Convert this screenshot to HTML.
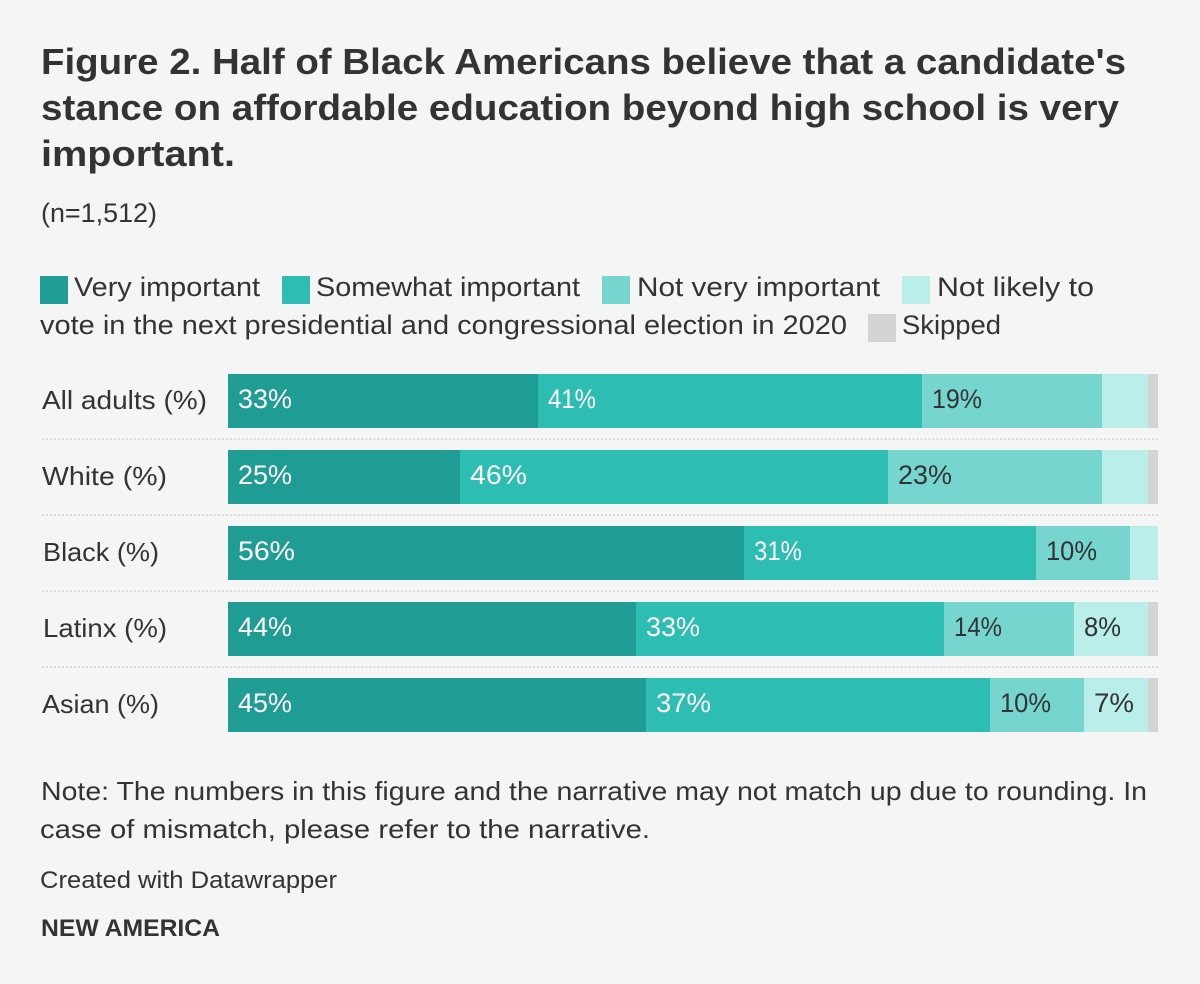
<!DOCTYPE html>
<html lang="en">
<head>
<meta charset="utf-8">
<title>Figure 2</title>
<style>
html,body{margin:0;padding:0;background:#f5f5f5;}
svg{display:block;font-family:"Liberation Sans",sans-serif;}
text{fill:#333;}
.title{font-size:36px;font-weight:bold;}
.leg{font-size:27px;}
.row{font-size:26px;}
.note{font-size:26px;}
</style>
</head>
<body>
<svg id="chart" xmlns="http://www.w3.org/2000/svg" width="1200" height="984" viewBox="0 0 1200 984">
<rect x="0" y="0" width="1200" height="984" fill="#f5f5f5"/>
<g>
<text class="title" x="41" y="74" textLength="1085" lengthAdjust="spacingAndGlyphs">Figure 2. Half of Black Americans believe that a candidate's</text>
<text class="title" x="41" y="120" textLength="1078" lengthAdjust="spacingAndGlyphs">stance on affordable education beyond high school is very</text>
<text class="title" x="41" y="166" textLength="194" lengthAdjust="spacingAndGlyphs">important.</text>
</g>
<text x="41" y="222" font-size="27" textLength="116" lengthAdjust="spacingAndGlyphs">(n=1,512)</text>
<g>
<rect x="40" y="276" width="28" height="28" fill="#1f9c93"/>
<text class="leg" x="74" y="296" textLength="186" lengthAdjust="spacingAndGlyphs">Very important</text>
<rect x="282" y="276" width="28" height="28" fill="#2ebdb2"/>
<text class="leg" x="316" y="296" textLength="264" lengthAdjust="spacingAndGlyphs">Somewhat important</text>
<rect x="602" y="276" width="28" height="28" fill="#76d6cf"/>
<text class="leg" x="637" y="296" textLength="243" lengthAdjust="spacingAndGlyphs">Not very important</text>
<rect x="902" y="276" width="28" height="28" fill="#b9eee9"/>
<text class="leg" x="937" y="296" textLength="157" lengthAdjust="spacingAndGlyphs">Not likely to</text>
<text class="leg" x="40" y="334" textLength="807" lengthAdjust="spacingAndGlyphs">vote in the next presidential and congressional election in 2020</text>
<rect x="868" y="314" width="28" height="28" fill="#d4d4d4"/>
<text class="leg" x="902" y="334" textLength="99" lengthAdjust="spacingAndGlyphs">Skipped</text>
</g>
<g id="plot"></g>
<text class="note" x="41" y="800" textLength="1106" lengthAdjust="spacingAndGlyphs">Note: The numbers in this figure and the narrative may not match up due to rounding. In</text>
<text class="note" x="40" y="838" textLength="610" lengthAdjust="spacingAndGlyphs">case of mismatch, please refer to the narrative.</text>
<text x="40" y="888" font-size="24" textLength="297" lengthAdjust="spacingAndGlyphs">Created with Datawrapper</text>
<text x="41" y="936" font-size="24" font-weight="bold" textLength="179" lengthAdjust="spacingAndGlyphs">NEW AMERICA</text>
</svg>
<script>
var categories = ["All adults (%)", "White (%)", "Black (%)", "Latinx (%)", "Asian (%)"];
var veryImportant = [33.3, 24.9, 55.5, 43.9, 44.9];
var somewhatImportant = [41.3, 46.1, 31.4, 33.1, 37.0];
var notVeryImportant = [19.4, 23.0, 10.1, 14.0, 10.1];
var notLikely = [4.9, 4.9, 3.0, 7.9, 6.9];
var skipped = [1.1, 1.1, 0, 1.1, 1.1];
var domainMax = 100;

var svgNS = "http://www.w3.org/2000/svg";
var plot = document.getElementById("plot");
var seriesList = [veryImportant, somewhatImportant, notVeryImportant, notLikely, skipped];
var seriesKeys = ["very-important", "somewhat-important", "not-very-important", "not-likely", "skipped"];
var seriesColors = ["#1f9c93", "#2ebdb2", "#76d6cf", "#b9eee9", "#d4d4d4"];
var labelColors = ["#ffffff", "#ffffff", "#333333", "#333333", "#333333"];

/* Approximate advance widths so the substitute font matches the original's wide numerals. */
var glyphAdvance = {"0": 18, "1": 9, "2": 15, "3": 15, "4": 15, "5": 15, "6": 18, "7": 16, "8": 13, "9": 17, "%": 24};
var categoryTextStyle = {
  "All adults (%)": {x: 42, w: 165},
  "White (%)": {x: 42, w: 125},
  "Black (%)": {x: 43, w: 116},
  "Latinx (%)": {x: 43, w: 124},
  "Asian (%)": {x: 42, w: 117}
};

function xScale(v) { return Math.round(228 + v / domainMax * 930); }
function rowTop(i) { return 374 + i * 76; }
function labelWidth(str) {
  var w = 0;
  for (var k = 0; k < str.length; k++) { w += glyphAdvance[str.charAt(k)] || 15; }
  return w;
}

categories.forEach(function (cat, i) {
  var top = rowTop(i);
  var catStyle = categoryTextStyle[cat];

  var label = document.createElementNS(svgNS, "text");
  
  
  label.setAttribute("class", "row");
  label.setAttribute("x", catStyle ? catStyle.x : 42);
  label.setAttribute("y", top + 35);
  if (catStyle) {
    label.setAttribute("textLength", catStyle.w);
    label.setAttribute("lengthAdjust", "spacingAndGlyphs");
  }
  label.textContent = cat;
  plot.appendChild(label);

  var cum = 0;
  seriesList.forEach(function (series, s) {
    var v = series[i];
    var x0 = xScale(cum);
    var x1 = xScale(cum + v);
    cum += v;
    if (v <= 0) { return; }

    var bar = document.createElementNS(svgNS, "rect");
    
    
    bar.setAttribute("x", x0);
    bar.setAttribute("y", top);
    bar.setAttribute("width", x1 - x0);
    bar.setAttribute("height", 54);
    bar.setAttribute("fill", seriesColors[s]);
    plot.appendChild(bar);

    if (v >= 6) {
      var str = Math.round(v) + "%";
      var val = document.createElementNS(svgNS, "text");
      
      
      val.setAttribute("x", x0 + 10);
      val.setAttribute("y", top + 34);
      val.setAttribute("font-size", "27");
      val.setAttribute("textLength", labelWidth(str));
      val.setAttribute("lengthAdjust", "spacingAndGlyphs");
      val.style.fill = labelColors[s];
      val.textContent = str;
      plot.appendChild(val);
    }
  });

  if (i < categories.length - 1) {
    var sep = document.createElementNS(svgNS, "line");
    
    
    sep.setAttribute("x1", 42);
    sep.setAttribute("x2", 1158);
    sep.setAttribute("y1", top + 65);
    sep.setAttribute("y2", top + 65);
    sep.setAttribute("stroke", "#dcdcdc");
    sep.setAttribute("stroke-width", 2);
    sep.setAttribute("stroke-dasharray", "2 1.993");
    plot.appendChild(sep);
  }
});
</script>
</body>
</html>
